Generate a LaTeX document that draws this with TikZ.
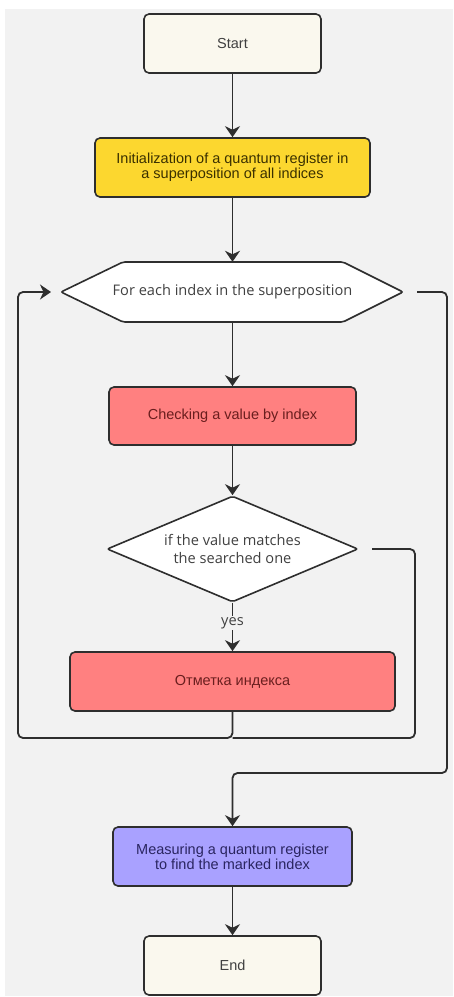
\documentclass[tikz,border=0pt]{standalone}
\usepackage{fontspec}
\setmainfont{Liberation Sans}
\newfontfamily\humfont{Open Sans}
\usetikzlibrary{arrows.meta,shapes.geometric}
\definecolor{bgc}{HTML}{F2F2F2}
\definecolor{linec}{HTML}{2E2E2E}
\definecolor{creamc}{HTML}{FAF8EE}
\definecolor{yellowc}{HTML}{FCD72F}
\definecolor{redc}{HTML}{FF8080}
\definecolor{purplec}{HTML}{A9A1FF}
\definecolor{txtgray}{HTML}{404040}
\definecolor{txtred}{HTML}{6A1E1E}
\definecolor{txtyel}{HTML}{3A3000}
\definecolor{txtpur}{HTML}{2A2560}
\tikzset{
  box/.style={draw=linec, line width=1.6pt, rounded corners=5pt, align=center,
    inner sep=0pt, font=\fontsize{14.5}{15}\selectfont},
  conn/.style={draw=linec, line width=1.8pt},
  arr/.style={conn, -{Stealth[length=11pt,width=15pt,inset=3.5pt]}},
}
\begin{document}
\begin{tikzpicture}[x=1pt,y=-1pt]
\useasboundingbox (0,0) rectangle (453,997);
\fill[white] (0,0) rectangle (453,997);
\fill[bgc] (5,9) rectangle (453,996);

\node[box, fill=creamc, text=txtgray, minimum width=177, minimum height=59] (start) at (232.5,43.5) {Start};
\node[box, fill=yellowc, text=txtyel, minimum width=275, minimum height=59] (init) at (232.5,167.5)
  {Initialization of a quantum register in\\a superposition of all indices};

\draw[linec, line width=1.6pt, fill=white, rounded corners=2pt]
  (61,292) -- (123,262) -- (343,262) -- (403,292) -- (343,322) -- (123,322) -- cycle;
\node[inner sep=0pt, minimum width=342, minimum height=60, text=txtgray,
  font=\humfont\fontsize{14.6}{17}\selectfont] (hex) at (232.5,292) {For each index in the superposition};

\node[box, fill=redc, text=txtred, minimum width=247, minimum height=58] (check) at (232.5,416) {Checking a value by index};

\node[diamond, draw=linec, line width=1.6pt, fill=white, aspect=2.37, inner sep=0pt,
  minimum width=251, minimum height=106, align=center, text=txtgray, rounded corners=2pt,
  font=\humfont\fontsize{14.6}{18.5}\selectfont] (dia) at (232.5,549)
  {if the value matches\\the searched one};

\node[inner sep=1.5pt, fill=bgc, text=txtgray, font=\humfont\fontsize{14.6}{17}\selectfont] (yes) at (232.5,623) {yes};

\node[box, fill=redc, text=txtred, minimum width=325, minimum height=59] (mark) at (232.5,681.5) {Отметка индекса};

\node[box, fill=purplec, text=txtpur, minimum width=239, minimum height=59] (meas) at (232.5,856.5)
  {Measuring a quantum register\\to find the marked index};
\node[box, fill=creamc, text=txtgray, minimum width=177, minimum height=59] (end) at (232.5,965.5) {End};

\coordinate (loopin) at (51,292);
\coordinate (loopL) at (18,738);
\coordinate (join) at (232.5,738);
\coordinate (diaout) at (372,549);
\coordinate (rj) at (415,738);
\coordinate (hexout) at (417,292);
\coordinate (hexR) at (447,773);

\draw[arr] (start) -- (init);
\draw[arr] (init) -- (hex.north);
\draw[arr] (hex.south) -- (check);
\draw[arr] (check) -- (dia.north);
\draw[conn] (dia.south) -- (yes.north);
\draw[arr] (yes.south) -- (mark.north);
\draw[arr, rounded corners=5pt] (mark.south) |- (loopL) |- (loopin);
\draw[conn, rounded corners=5pt] (diaout) -| (rj) -- (join);
\draw[arr, rounded corners=5pt] (hexout) -| (hexR) -| (meas.north);
\draw[arr] (meas) -- (end);
\end{tikzpicture}
\end{document}
